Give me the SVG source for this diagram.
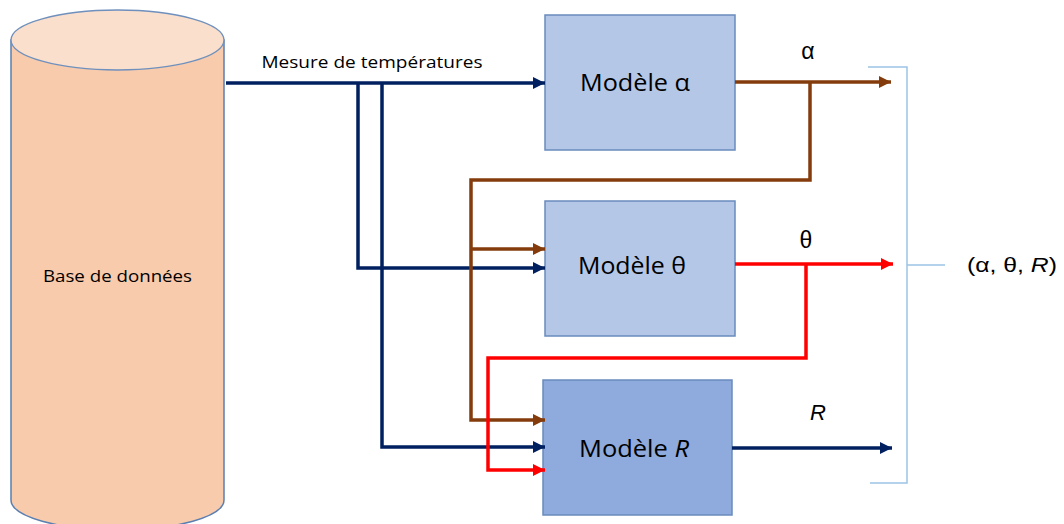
<svg xmlns="http://www.w3.org/2000/svg" width="1064" height="524" viewBox="0 0 1064 524">
<style>
.box{stroke:#6A8BBD;stroke-width:1.5}
.lbl{font-family:"Open Sans","Liberation Sans",sans-serif;fill:#000}
.gr{font-family:"Liberation Sans",Arial,sans-serif;fill:#000}
.c{fill:none;stroke-width:3.5;stroke-linejoin:miter}
.navy{stroke:#002060}
.brown{stroke:#843C0C}
.red{stroke:#FF0000}
</style>
<defs>
<marker id="aN" viewBox="0 0 10 10" refX="10" refY="5" markerWidth="13" markerHeight="12" markerUnits="userSpaceOnUse" orient="auto"><path d="M0,0 L10,5 L0,10 Z" fill="#002060"/></marker>
<marker id="aB" viewBox="0 0 10 10" refX="10" refY="5" markerWidth="13" markerHeight="12" markerUnits="userSpaceOnUse" orient="auto"><path d="M0,0 L10,5 L0,10 Z" fill="#843C0C"/></marker>
<marker id="aR" viewBox="0 0 10 10" refX="10" refY="5" markerWidth="13" markerHeight="12" markerUnits="userSpaceOnUse" orient="auto"><path d="M0,0 L10,5 L0,10 Z" fill="#FF0000"/></marker>
</defs>
<rect width="1064" height="524" fill="#fff"/>
<g id="db">
<path d="M11,40 V500 A106.5,30 0 0 0 224,500 V40 Z" fill="#F7CBAC" stroke="#5B7FB0" stroke-width="1.5"/>
<ellipse cx="117.5" cy="40" rx="106.5" ry="30" fill="#F9DFCC" stroke="#6F90BD" stroke-width="1.3"/>
<text class="lbl" x="117.5" y="282" font-size="17" text-anchor="middle" textLength="149" lengthAdjust="spacingAndGlyphs">Base de données</text>
</g>
<g id="model-alpha">
<rect class="box" x="545" y="15" width="190" height="135" fill="#B4C7E7"/>
<text class="lbl" x="635" y="91" font-size="23" text-anchor="middle" textLength="110" lengthAdjust="spacingAndGlyphs">Modèle α</text>
</g>
<g id="model-theta">
<rect class="box" x="545" y="201" width="190" height="135" fill="#B4C7E7"/>
<text class="lbl" x="632" y="274" font-size="23" text-anchor="middle" textLength="108" lengthAdjust="spacingAndGlyphs">Modèle θ</text>
</g>
<g id="model-r">
<rect class="box" x="543" y="380" width="189" height="135" fill="#8FAADC"/>
<text class="lbl" x="634" y="457" font-size="23" text-anchor="middle" textLength="110" lengthAdjust="spacingAndGlyphs">Modèle <tspan font-style="italic">R</tspan></text>
</g>
<g id="output">
<path d="M868,67 H907 V483 H870 M907,265 H945" fill="none" stroke="#9DC3E6" stroke-width="1.5"/>
<text class="gr" x="967" y="272" font-size="21" textLength="90" lengthAdjust="spacingAndGlyphs">(α, θ, <tspan font-style="italic">R</tspan>)</text>
</g>
<g id="connectors">
<path class="c navy" d="M226,83 H545" marker-end="url(#aN)"/>
<path class="c navy" d="M358,83 V268 H545" marker-end="url(#aN)"/>
<path class="c navy" d="M382,83 V447 H545" marker-end="url(#aN)"/>
<path class="c navy" d="M732,448 H892" marker-end="url(#aN)"/>
<path class="c brown" d="M735,82 H891" marker-end="url(#aB)"/>
<path class="c brown" d="M810,82 V180 H471 V420 H545" marker-end="url(#aB)"/>
<path class="c brown" d="M471,249 H545" marker-end="url(#aB)"/>
<path class="c red" d="M735,264 H893" marker-end="url(#aR)"/>
<path class="c red" d="M806,264 V358 H488 V470 H545" marker-end="url(#aR)"/>
<text class="lbl" x="372" y="68" font-size="17" text-anchor="middle" textLength="221" lengthAdjust="spacingAndGlyphs">Mesure de températures</text>
<text class="gr" x="808" y="59" font-size="23" text-anchor="middle">α</text>
<text class="gr" x="806" y="248" font-size="23" text-anchor="middle">θ</text>
<text class="gr" x="818" y="420" font-size="22" text-anchor="middle" font-style="italic">R</text>
</g>
</svg>
